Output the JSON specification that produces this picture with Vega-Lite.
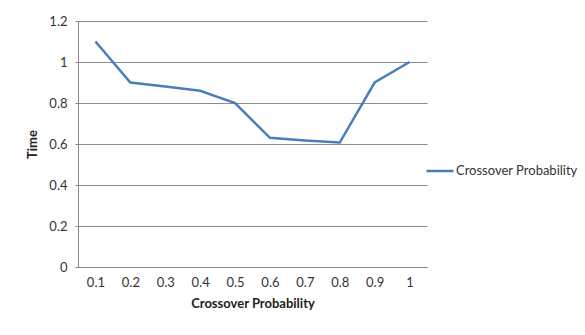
{
  "$schema": "https://vega.github.io/schema/vega-lite/v6.json",
  "width": 349,
  "height": 246,
  "autosize": {"type": "none"},
  "padding": {"left": 78, "top": 21, "right": 158, "bottom": 68},
  "background": "white",
  "config": {
    "font": "Lato",
    "view": {"stroke": null}
  },
  "data": {
    "values": [
      {"p": "0.1", "time": 1.1},
      {"p": "0.2", "time": 0.9},
      {"p": "0.3", "time": 0.88},
      {"p": "0.4", "time": 0.86},
      {"p": "0.5", "time": 0.8},
      {"p": "0.6", "time": 0.63},
      {"p": "0.7", "time": 0.617},
      {"p": "0.8", "time": 0.607},
      {"p": "0.9", "time": 0.9},
      {"p": "1", "time": 1.0}
    ]
  },
  "mark": {"type": "line", "strokeWidth": 2.5, "strokeJoin": "miter"},
  "encoding": {
    "x": {
      "field": "p",
      "type": "ordinal",
      "sort": null,
      "scale": {"padding": 0.5},
      "axis": {
        "title": "Crossover Probability",
        "titleFont": "Lato",
        "titleFontSize": 13,
        "titleFontWeight": "bold",
        "titleColor": "#222",
        "titlePadding": 8,
        "labelAngle": 0,
        "labelFontSize": 13,
        "labelColor": "#333",
        "labelPadding": 9,
        "ticks": false,
        "domainColor": "#888",
        "grid": false
      }
    },
    "y": {
      "field": "time",
      "type": "quantitative",
      "scale": {"domain": [0, 1.2], "nice": false},
      "axis": {
        "title": "Time",
        "values": [0, 0.2, 0.4, 0.6, 0.8, 1, 1.2],
        "format": "~g",
        "titleFontSize": 13,
        "titleFontWeight": "bold",
        "titleColor": "#222",
        "titlePadding": 9,
        "labelFontSize": 13,
        "labelColor": "#333",
        "labelPadding": 8,
        "tickSize": 3,
        "tickColor": "#888",
        "domainColor": "#888",
        "gridColor": "#8c8c8c",
        "gridOpacity": 1
      }
    },
    "color": {
      "datum": "Crossover Probability",
      "scale": {"range": ["#4a7ebb"]},
      "legend": {
        "title": null,
        "orient": "none",
        "legendX": 347,
        "legendY": 135,
        "symbolType": "stroke",
        "symbolSize": 729,
        "symbolStrokeWidth": 2.5,
        "labelFontSize": 13,
        "labelColor": "#333",
        "labelOffset": 1,
        "padding": 0
      }
    }
  }
}
